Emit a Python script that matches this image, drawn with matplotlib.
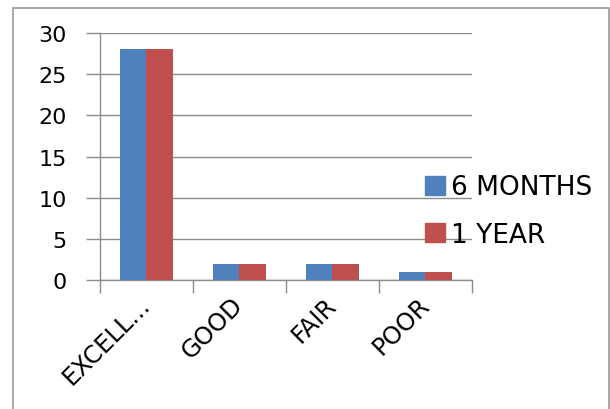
import matplotlib
matplotlib.use("Agg")
import matplotlib.pyplot as plt
import matplotlib.transforms as mtransforms
import numpy as np
from matplotlib.patches import Rectangle, Patch

categories = ["EXCELL...", "GOOD", "FAIR", "POOR"]
six_months = [28, 2, 2, 1]
one_year = [28, 2, 2, 1]
series_names = ["6 MONTHS", "1 YEAR"]
colors = ["#4F81BD", "#C0504D"]

plt.rcParams["font.family"] = ["DejaVu Sans"]

fig = plt.figure(figsize=(6.1, 4.1), dpi=100)
ax = fig.add_axes([100 / 610, 1 - 281 / 410, 372 / 610, 247 / 410])

x = np.arange(len(categories))
w = 0.285
ax.bar(x - w / 2, six_months, w, color=colors[0], zorder=3)
ax.bar(x + w / 2, one_year, w, color=colors[1], zorder=3)

ax.set_xlim(-0.5, len(categories) - 0.5)
ax.set_ylim(0, 30)
ax.set_yticks(range(0, 31, 5))
ax.yaxis.grid(True, color="#8c8c8c", linewidth=1, zorder=0)

for s in ["top", "right"]:
    ax.spines[s].set_visible(False)
for s in ["left", "bottom"]:
    ax.spines[s].set_color("#8c8c8c")
    ax.spines[s].set_linewidth(1)

# category boundaries carry the tick marks, labels sit at the centres
ax.set_xticks(np.arange(-0.5, len(categories), 1.0))
ax.set_xticklabels([])
ax.set_xticks(x, minor=True)
ax.set_xticklabels(categories, minor=True, rotation=45, ha="right",
                   va="center", rotation_mode="anchor", fontsize=17.5)
shift = mtransforms.ScaledTranslation(6 / 100, 0, fig.dpi_scale_trans)
for lbl in ax.get_xticklabels(minor=True):
    lbl.set_transform(lbl.get_transform() + shift)
ax.tick_params(axis="x", which="major", length=9, color="#8c8c8c", width=1)
ax.tick_params(axis="x", which="minor", length=0, pad=15)
ax.tick_params(axis="y", length=10, color="#8c8c8c", width=1, pad=14,
               labelsize=16)

handles = [Patch(color=c) for c in colors]
fig.legend(handles, series_names, loc="center left",
           bbox_to_anchor=(425 / 610, 1 - 212 / 410), frameon=False,
           fontsize=19, handlelength=0.75, handleheight=0.75,
           handletextpad=0.25, labelspacing=0.8, borderaxespad=0,
           borderpad=0)

fig.patches.append(Rectangle((13 / 610, -0.05), 596 / 610, 1 - 9 / 410 + 0.05,
                             transform=fig.transFigure, fill=False,
                             edgecolor="#999999", linewidth=1.2))

fig.savefig("out.png", dpi=100)
